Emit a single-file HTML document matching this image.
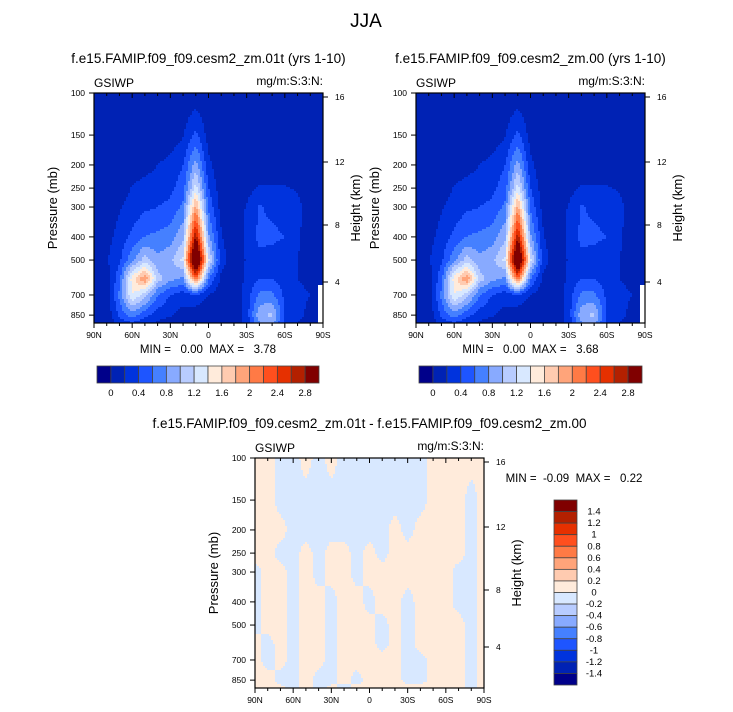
<!DOCTYPE html>
<html><head><meta charset="utf-8"><style>
html,body{margin:0;padding:0;background:#fff}
svg{display:block;font-family:"Liberation Sans",Arial,sans-serif}
text{white-space:pre}
</style></head><body>
<svg id="fig" width="733" height="712" viewBox="0 0 733 712" xmlns="http://www.w3.org/2000/svg">
<text x="366" y="27" font-size="19" text-anchor="middle">JJA</text>
</svg>
<script>
// ---- data ----
const lats = [90,80,70,60,50,40,30,20,10,0,-10,-20,-30,-40,-50,-60,-70,-80,-90];
const levels = [100,150,200,250,300,400,500,600,700,850,925];
const gsiwp01t = [
[.05,.05,.05,.05,.05,.05,.05,.05,.05,.05,.05,.05,.05,.05,.05,.05,.05,.05,.05],
[.05,.05,.05,.05,.05,.05,.08,.18,.45,.12,.05,.05,.05,.05,.05,.05,.05,.05,.05],
[.05,.05,.05,.06,.12,.2,.26,.4,.9,.25,.05,.05,.05,.05,.05,.05,.05,.05,.05],
[.05,.05,.08,.22,.28,.3,.35,.5,1.3,.4,.08,.05,.12,.22,.22,.22,.18,.08,.05],
[.05,.05,.18,.28,.36,.4,.45,.65,1.9,.55,.12,.05,.22,.42,.35,.3,.25,.12,.05],
[.05,.12,.28,.45,.6,.65,.7,.95,2.8,.85,.22,.05,.25,.45,.45,.4,.22,.12,.08],
[.05,.18,.36,.75,1.1,.85,.95,1.25,3.7,1.25,.3,.05,.22,.35,.3,.25,.2,.15,.08],
[.05,.08,.55,1.5,2.0,1.1,.85,.75,2.2,.6,.15,.05,.25,.4,.4,.3,.2,.15,.08],
[.05,.05,.65,1.4,1.1,.6,.4,.3,.35,.2,.08,.05,.3,.65,.65,.35,.25,.2,.08],
[.05,.05,.45,.7,.45,.3,.22,.12,.08,.05,.05,.05,.3,.95,1.05,.4,.25,.15,.08],
[.05,.05,.25,.35,.25,.15,.08,.05,.05,.05,.05,.05,.25,.75,.85,.3,.18,.12,.08]];
const gsiwp00 = [
[.05,.05,.05,.05,.05,.05,.05,.05,.05,.05,.05,.05,.05,.05,.05,.05,.05,.05,.05],
[.05,.05,.05,.05,.05,.05,.08,.18,.45,.12,.05,.05,.05,.05,.05,.05,.05,.05,.05],
[.05,.05,.05,.06,.12,.2,.26,.4,.9,.25,.05,.05,.05,.05,.05,.05,.05,.05,.05],
[.05,.05,.08,.22,.28,.3,.35,.5,1.3,.4,.08,.05,.12,.22,.22,.22,.18,.08,.05],
[.05,.05,.18,.28,.36,.4,.45,.65,1.9,.55,.12,.05,.22,.42,.35,.3,.25,.12,.05],
[.05,.12,.28,.45,.6,.65,.7,.95,2.75,.85,.22,.05,.25,.45,.45,.4,.22,.12,.08],
[.05,.18,.36,.75,1.1,.85,.95,1.25,3.6,1.25,.3,.05,.22,.35,.3,.25,.2,.15,.08],
[.05,.08,.55,1.5,2.0,1.1,.85,.75,2.2,.6,.15,.05,.25,.4,.4,.3,.2,.15,.08],
[.05,.05,.65,1.4,1.1,.6,.4,.3,.35,.2,.08,.05,.3,.65,.65,.35,.25,.2,.08],
[.05,.05,.45,.7,.45,.3,.22,.12,.08,.05,.05,.05,.3,.95,1.05,.4,.25,.15,.08],
[.05,.05,.25,.35,.25,.15,.08,.05,.05,.05,.05,.05,.25,.75,.85,.3,.18,.12,.08]];
const gsiwpDiff = [
[.05,.05,-.05,-.05,.05,-.05,.05,-.05,-.05,-.05,-.05,-.05,-.05,-.05,.05,.05,.05,.05,.05],
[.05,.05,-.05,-.05,-.05,-.05,-.05,-.05,-.05,-.05,-.05,-.05,-.05,-.05,.05,.05,.05,-.05,.05],
[.05,.05,.05,-.05,-.05,-.05,-.05,-.05,-.05,-.05,-.05,.05,-.05,.05,.05,.05,.05,-.05,.05],
[.05,.05,-.05,-.05,.05,-.05,.05,.05,-.05,.05,-.05,.05,.05,.05,.05,.05,.05,-.05,.05],
[-.05,.05,.05,-.05,.05,-.05,.05,.05,-.05,.05,.05,.05,.05,.05,.05,.05,-.05,-.05,.05],
[-.05,.05,.05,-.05,.05,.05,-.05,.05,.05,-.05,.05,.05,-.05,.05,.05,.05,-.05,-.05,.05],
[-.05,.05,.05,-.05,.05,.05,-.05,.05,.05,.05,-.05,.05,-.05,.05,.05,.05,.05,-.05,.05],
[.05,-.05,.05,-.05,.05,.05,-.05,.05,.05,.05,-.05,.05,-.05,.05,.05,.05,.05,-.05,.05],
[.05,-.05,.05,-.05,.05,.05,-.05,.05,.05,.05,.05,.05,-.05,-.05,.05,.05,.05,-.05,.05],
[.05,.05,-.05,-.05,.05,-.05,-.05,.05,-.05,.05,.05,.05,-.05,-.05,.05,.05,.05,-.05,.05],
[.05,.05,.05,-.05,.05,-.05,.05,-.05,.05,.05,.05,.05,.05,.05,.05,.05,.05,-.05,.05]];
const absLevels = [0,0.2,0.4,0.6,0.8,1.0,1.2,1.4,1.6,1.8,2.0,2.2,2.4,2.6,2.8];
const absLabels = ["0","0.4","0.8","1.2","1.6","2","2.4","2.8"];
const diffLevels = [-1.4,-1.2,-1,-0.8,-0.6,-0.4,-0.2,0,0.2,0.4,0.6,0.8,1,1.2,1.4];
const diffLabels = ["1.4","1.2","1","0.8","0.6","0.4","0.2","0","-0.2","-0.4","-0.6","-0.8","-1","-1.2","-1.4"];
const pTicks = [100,150,200,250,300,400,500,700,850];
const latTicks = [90,60,30,0,-30,-60,-90];
const latTickLabels = ["90N","60N","30N","0","30S","60S","90S"];
const hTicks = [16,12,8,4];
const hTickOffsets = [4,69,132,189];
const colors = ["#00008a","#0022b4","#0033dd","#1e55ff","#4580ff","#88aaff","#b8ccff","#d8e8ff","#ffebdb","#ffcbb0","#ffa47a","#ff7a45","#ff4f1e","#e63000","#b32000","#800000"];

const NS="http://www.w3.org/2000/svg";
const fig=document.getElementById('fig');
function mk(tag,attrs,parent,txt){const e=document.createElementNS(NS,tag);for(const k in attrs)e.setAttribute(k,attrs[k]);if(txt!==undefined)e.textContent=txt;(parent||fig).appendChild(e);return e;}
const W=229,H=230,DEC=239;
function yOfP(top,p){return top+Math.log10(p/100)*DEC;}
function xOfLat(left,lat){return left+(90-lat)/180*W;}
function colorIdx(v,lev){let i=0;while(i<lev.length&&v>=lev[i])i++;return i;}
function sample(grid,lat,p){
  let fx=(90-lat)/10; fx=Math.max(0,Math.min(lats.length-1.001,fx));
  const lp=Math.log(p);let j=0;
  while(j<levels.length-2&&lp>Math.log(levels[j+1]))j++;
  let fy=(lp-Math.log(levels[j]))/(Math.log(levels[j+1])-Math.log(levels[j]));fy=Math.max(0,Math.min(1,fy));
  const i=Math.floor(fx),tx=fx-i;
  const a=grid[j][i]*(1-tx)+grid[j][i+1]*tx, b=grid[j+1][i]*(1-tx)+grid[j+1][i+1]*tx;
  return a*(1-fy)+b*fy;
}
function panel(name,left,top,grid,lev,title,titleY,missing){
  const g=mk('g',{},fig);
  
  
  const field=mk('g',{},g);
  
  
  const cs=2;
  for(let py=0;py<H;py+=cs){
    const p=100*Math.pow(10,(py+cs/2)/DEC);
    let runStart=0,runC=-1;
    for(let px=0;px<W+cs;px+=cs){
      let c=-2;
      if(px<W){const lat=90-(px+cs/2)/W*180;c=colorIdx(sample(grid,lat,p),lev);}
      if(c!==runC){
        if(runC>=0){const r=mk('rect',{x:left+runStart,y:top+py,width:Math.min(px,W)-runStart+0.5,height:Math.min(cs+0.5,H-py),fill:colors[runC]},field);
          
          }
        runStart=px;runC=c;
      }
    }
  }
  if(missing){const r=mk('rect',{x:left+W-5,y:top+192,width:5,height:38,fill:'#fff'},g);
    
    }
  mk('rect',{x:left,y:top,width:W,height:H,fill:'none',stroke:'#000','stroke-width':1.2},g);
  for(const p of pTicks){const y=yOfP(top,p);
    mk('line',{x1:left-5,x2:left,y1:y,y2:y,stroke:'#000'},g);
    const t=mk('text',{x:left-9,y:y+3,'font-size':8.5,'text-anchor':'end'},g,String(p));
    
    }
  for(let lat=90;lat>=-90;lat-=10){const x=xOfLat(left,lat);const major=lat%30===0;
    mk('line',{x1:x,x2:x,y1:top+H,y2:top+H+(major?5:3),stroke:'#000'},g);
    mk('line',{x1:x,x2:x,y1:top,y2:top+(major?5:3),stroke:'#000'},g);}
  latTicks.forEach((lat,k)=>{const t=mk('text',{x:xOfLat(left,lat),y:top+H+15,'font-size':8.5,'text-anchor':'middle'},g,latTickLabels[k]);
    
    });
  hTicks.forEach((h,k)=>{const y=top+hTickOffsets[k];
    mk('line',{x1:left+W,x2:left+W+5,y1:y,y2:y,stroke:'#000'},g);
    const t=mk('text',{x:left+W+12,y:y+3,'font-size':8.5},g,String(h));
    
    });
  let t=mk('text',{x:left-37,y:top+H/2,'font-size':13,'text-anchor':'middle',transform:`rotate(-90 ${left-37} ${top+H/2})`},g,'Pressure (mb)');
  
  
  t=mk('text',{x:left+W+37,y:top+H/2,'font-size':13,'text-anchor':'middle',transform:`rotate(-90 ${left+W+37} ${top+H/2})`},g,'Height (km)');
  
  
  t=mk('text',{x:left,y:top-6,'font-size':12},g,'GSIWP');
  
  
  t=mk('text',{x:left+W,y:top-8,'font-size':12,'text-anchor':'end'},g,'mg/m:S:3:N:');
  
  
  t=mk('text',{x:left+W/2,y:titleY,'font-size':13.5,'text-anchor':'middle'},g,title);
  
  
}
function hbar(name,x0,y0,w,h,lbl,minmax){
  const g=mk('g',{},fig);
  
  
  const bw=w/colors.length;
  colors.forEach((c,i)=>{const r=mk('rect',{x:x0+i*bw,y:y0,width:bw,height:h,fill:c,stroke:'#444','stroke-width':0.8},g);
    
    });
  lbl.forEach((s,k)=>{const t=mk('text',{x:x0+bw*(1+2*k),y:y0+h+13,'font-size':9.5,'text-anchor':'middle'},g,s);
    
    });
  const t=mk('text',{x:x0+w/2,y:y0-13,'font-size':11.5,'text-anchor':'middle'},g,minmax);
  
  
}
panel('panel-01t',94,93,gsiwp01t,absLevels,'f.e15.FAMIP.f09_f09.cesm2_zm.01t (yrs 1-10)',63,true);
panel('panel-00',416,93,gsiwp00,absLevels,'f.e15.FAMIP.f09_f09.cesm2_zm.00 (yrs 1-10)',63,true);
panel('panel-diff',255,458,gsiwpDiff,diffLevels,'f.e15.FAMIP.f09_f09.cesm2_zm.01t - f.e15.FAMIP.f09_f09.cesm2_zm.00',428,false);
hbar('colorbar-01t',97,366,222,17,absLabels,'MIN =   0.00  MAX =   3.78');
hbar('colorbar-00',419,366,223,17,absLabels,'MIN =   0.00  MAX =   3.68');
(function(){
  const g=mk('g',{},fig);
  
  
  const x0=554,y0=500,w=23,h=185,bh=h/colors.length;
  colors.slice().reverse().forEach((c,i)=>{const r=mk('rect',{x:x0,y:y0+i*bh,width:w,height:bh,fill:c,stroke:'#444','stroke-width':0.8},g);
    
    });
  diffLabels.forEach((s,k)=>{const t=mk('text',{x:x0+w+17,y:y0+bh*(k+1)+3,'font-size':9.5,'text-anchor':'middle'},g,s);
    
    });
  const t=mk('text',{x:574,y:482,'font-size':11.5,'text-anchor':'middle'},g,'MIN =  -0.09  MAX =   0.22');
  
  
})();
</script>
</body></html>
